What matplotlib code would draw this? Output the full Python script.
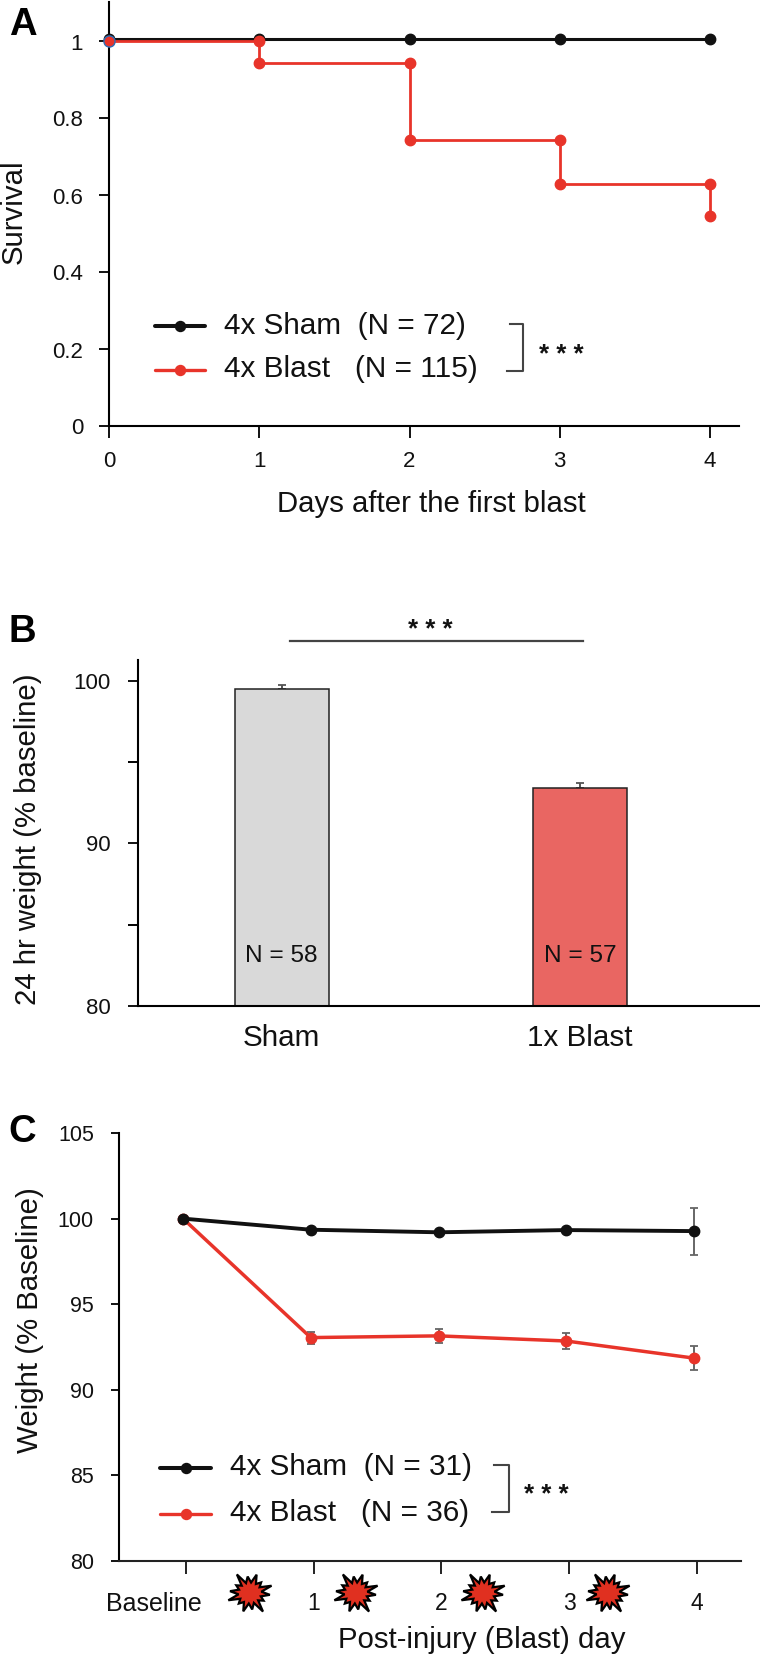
import matplotlib
matplotlib.use("Agg")
import matplotlib.pyplot as plt
from matplotlib.patches import Polygon
from matplotlib.transforms import ScaledTranslation
import numpy as np

plt.rcParams['font.family'] = ['Liberation Sans', 'DejaVu Sans']

W, H = 760, 1660
BLACK = '#111111'
RED = '#e8342a'
GRAY = '#444444'

# Panel A
days = [0, 1, 2, 3, 4]
sham_survival = [1.007, 1.007, 1.007, 1.007, 1.007]
blast_step_x = [0, 1, 1, 2, 2, 3, 3, 4, 4]
blast_step_y = [1.0, 1.0, 0.945, 0.945, 0.745, 0.745, 0.63, 0.63, 0.548]
legend_a = ['4x Sham  (N = 72)', '4x Blast   (N = 115)']
a_yticks = [0, 0.2, 0.4, 0.6, 0.8, 1]
a_ylabels = ['0', '0.2', '0.4', '0.6', '0.8', '1']

# Panel B
b_groups = ['Sham', '1x Blast']
b_means = [99.5, 93.4]
b_errs = [0.25, 0.3]
b_n = ['N = 58', 'N = 57']
b_colors = ['#d9d9d9', '#e96662']

# Panel C
c_days = [0, 1, 2, 3, 4]
c_labels = ['Baseline', '1', '2', '3', '4']
c_sham = [100, 99.35, 99.2, 99.33, 99.27]
c_sham_err = [0, 0.1, 0.1, 0.1, 1.37]
c_blast = [100, 93.05, 93.15, 92.85, 91.85]
c_blast_err = [0, 0.35, 0.4, 0.45, 0.7]
legend_c = ['4x Sham  (N = 31)', '4x Blast   (N = 36)']
burst_days = [0.524, 1.354, 2.349, 3.327]

fig = plt.figure(figsize=(W / 100, H / 100), dpi=100)


def add_axes(x0, x1, ytop, ybot):
    return fig.add_axes([x0 / W, 1 - ybot / H, (x1 - x0) / W, (ybot - ytop) / H])


def ftext(x, y, s, **kw):
    fig.text(x / W, 1 - y / H, s, **kw)


def fline(xs, ys, **kw):
    fig.add_artist(plt.Line2D([x / W for x in xs], [1 - y / H for y in ys],
                              transform=fig.transFigure, **kw))


def stars(x, y):
    ftext(x, y + 14, '* * *', fontsize=18.5, fontweight='bold', ha='center', va='baseline', color=BLACK)


def letter(x, y, s):
    ftext(x, y, s, fontsize=27.5, fontweight='bold', ha='left', va='baseline', color='black')


def style(ax):
    ax.spines['top'].set_visible(False)
    ax.spines['right'].set_visible(False)
    ax.spines['left'].set_linewidth(1.5)
    ax.spines['bottom'].set_linewidth(1.5)
    ax.patch.set_alpha(0)


# ---- A ----
axA = add_axes(109, 739, 2, 426.5)
style(axA)
axA.set_xlim(0, (739 - 109) / 150.25)
axA.set_ylim(0, 424.5 / 385)
axA.plot(days, sham_survival, '-o', color=BLACK, lw=2.2, ms=7.5, clip_on=False, zorder=3)
axA.plot(blast_step_x, blast_step_y, '-', color=RED, lw=2, zorder=4, clip_on=False)
axA.plot(blast_step_x[1:], blast_step_y[1:], 'o', color=RED, ms=7.5, zorder=5, clip_on=False)
axA.plot([0], [1.0], 'o', mfc=RED, mec='#2f6db5', mew=1, ms=8, zorder=6, clip_on=False)
axA.set_xticks(days)
axA.set_yticks(a_yticks)
axA.set_yticklabels(a_ylabels)
axA.tick_params(axis='x', labelsize=16, length=8.6, width=1.4, pad=9, colors=BLACK)
axA.tick_params(axis='y', labelsize=16, length=7.2, width=1.4, pad=11.5, colors=BLACK)
ftext(431, 504, 'Days after the first blast', fontsize=21.2, ha='center', va='center', color=BLACK)
ftext(14, 212, 'Survival', fontsize=21.2, rotation=90, ha='center', va='center', color=BLACK)
letter(9, 35, 'A')

fline([155, 205], [326, 326], color=BLACK, lw=2.9, solid_capstyle='round')
fline([180], [326], color=BLACK, marker='o', ms=7.2)
fline([155, 205], [370, 370], color=RED, lw=2.4, solid_capstyle='round')
fline([180], [370], color=RED, marker='o', ms=7.2)
ftext(224, 326, legend_a[0], fontsize=21.4, ha='left', va='center', color=BLACK)
ftext(224, 369, legend_a[1], fontsize=21.4, ha='left', va='center', color=BLACK)
fline([510, 523, 523, 507], [324, 324, 371, 371], color=GRAY, lw=1.5)
stars(561, 348)

# ---- B ----
axB = add_axes(138, 760, 660, 1005.7)
style(axB)
axB.set_ylim(80, 80 + (1005.7 - 660) / 16.235)
axB.set_xlim(138, 760)
b_pos = [281.5, 580]
axB.bar(b_pos, b_means, width=94, bottom=0, color=b_colors, edgecolor='#222222', linewidth=1.1, zorder=2)
axB.errorbar(b_pos, b_means, yerr=[[0, 0], b_errs], fmt='none', ecolor='#555555', elinewidth=1.4,
             capsize=3.2, capthick=1.3, zorder=1)
axB.set_xticks(b_pos)
axB.set_xticklabels(b_groups)
axB.set_yticks([80, 90, 100])
axB.set_yticks([85, 95], minor=True)
axB.tick_params(axis='x', labelsize=21.3, length=0, pad=13, colors=BLACK)
axB.tick_params(axis='y', which='major', labelsize=16, length=7.5, width=1.4, pad=12, colors=BLACK)
axB.tick_params(axis='y', which='minor', length=7.5, width=1.4)
for p, n in zip(b_pos, b_n):
    axB.text(p, 83.07, n, fontsize=17.6, ha='center', va='center', color=BLACK, zorder=3)
ftext(28.5, 839.5, '24 hr weight (% baseline)', fontsize=21.2, rotation=90, ha='center', va='center', color=BLACK)
letter(8.5, 642, 'B')
fline([290, 583], [641, 641], color=GRAY, lw=1.6)
stars(430, 623)

# ---- C ----
axC = add_axes(119, 741, 1133, 1561)
style(axC)
axC.spines['bottom'].set_color('#222222')
axC.set_ylim(80, 105)
x_per = 127.75
axC.set_xlim(-(183 - 119) / x_per, (741 - 183) / x_per)
axC.errorbar(c_days, c_sham, yerr=c_sham_err, fmt='none', ecolor='#666666', elinewidth=1.4, capsize=3.2,
             capthick=1.3, zorder=2)
axC.errorbar(c_days, c_blast, yerr=c_blast_err, fmt='none', ecolor='#666666', elinewidth=1.4, capsize=3.2,
             capthick=1.3, zorder=2)
axC.plot(c_days, c_blast, '-o', color=RED, lw=2.5, ms=7.5, zorder=3)
axC.plot(c_days, c_sham, '-o', color=BLACK, lw=2.8, ms=7.5, zorder=4)
axC.set_xticks([d + 0.023 for d in c_days])
axC.set_xticklabels(c_labels)
axC.set_yticks([80, 85, 90, 95, 100, 105])
axC.tick_params(axis='x', labelsize=16.5, length=9.3, width=1.3, pad=13, colors=BLACK)
axC.tick_params(axis='y', labelsize=15.5, length=6, width=1.4, pad=12, colors=BLACK)
base_lab = axC.get_xticklabels()[0]
base_lab.set_fontsize(18)
base_lab.set_ha('right')
base_lab.set_transform(base_lab.get_transform() + ScaledTranslation(0.16, 0, fig.dpi_scale_trans))
ftext(481.5, 1640, 'Post-injury (Blast) day', fontsize=21.2, ha='center', va='center', color=BLACK)
ftext(30, 1320, 'Weight (% Baseline)', fontsize=21.2, rotation=90, ha='center', va='center', color=BLACK)
letter(8, 1142, 'C')

fline([160, 211], [1468, 1468], color=BLACK, lw=2.9, solid_capstyle='round')
fline([186], [1468], color=BLACK, marker='o', ms=7.2)
fline([160, 211], [1514, 1514], color=RED, lw=2.4, solid_capstyle='round')
fline([186], [1514], color=RED, marker='o', ms=7.2)
ftext(230, 1467, legend_c[0], fontsize=21.4, ha='left', va='center', color=BLACK)
ftext(230, 1513, legend_c[1], fontsize=21.4, ha='left', va='center', color=BLACK)
fline([494, 509, 509, 492], [1465, 1465, 1512, 1512], color=GRAY, lw=1.5)
stars(546.5, 1488)

outer = [23, 16, 21, 18, 24, 16, 20, 23, 16, 21, 18, 24, 16, 20]


def burst(ax, day):
    n = len(outer)
    ang = np.linspace(0, 2 * np.pi, 2 * n, endpoint=False) + 0.35
    rad = np.empty(2 * n)
    rad[0::2] = outer
    rad[1::2] = 11.5
    cx, cy = ax.transData.transform((day, 80))
    cy = cy - 32
    pts = np.c_[cx + rad * np.cos(ang), cy + rad * np.sin(ang) * 0.92]
    fig.add_artist(Polygon(pts, closed=True, facecolor='#e03020', edgecolor='black', lw=1.6,
                           joinstyle='miter', transform=None, zorder=5))


for d in burst_days:
    burst(axC, d)

fig.savefig('out.png', dpi=100)
